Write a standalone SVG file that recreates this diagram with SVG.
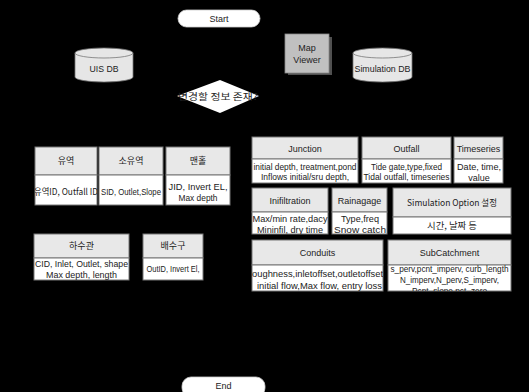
<svg xmlns="http://www.w3.org/2000/svg" width="529" height="392" viewBox="0 0 529 392">
<style>
text{font-family:"Liberation Sans","Noto Sans CJK KR",sans-serif;font-size:9px;fill:#222;text-anchor:middle}
.term{fill:#fff;stroke:#ccc;stroke-width:0.8}
.cyl{fill:#e6e6e6;stroke:#777;stroke-width:0.8}
.hd{fill:#e8e8e8;stroke:#777;stroke-width:1}
.bd{fill:#fff;stroke:#777;stroke-width:1}
.ko{font-family:"Noto Sans CJK KR","Liberation Sans",sans-serif}
</style>
<defs>
<clipPath id="cJ"><rect x="252" y="159" width="106" height="24"/></clipPath>
<clipPath id="cO"><rect x="362" y="159" width="89" height="24"/></clipPath>
<clipPath id="cT"><rect x="454" y="159" width="49" height="24"/></clipPath>
<clipPath id="cI"><rect x="252" y="212" width="76" height="22"/></clipPath>
<clipPath id="cR"><rect x="332" y="212" width="55" height="22"/></clipPath>
<clipPath id="cC"><rect x="252" y="265" width="131" height="26"/></clipPath>
<clipPath id="cS"><rect x="388" y="265" width="123" height="26"/></clipPath>
<clipPath id="cY"><rect x="35" y="175" width="62" height="30"/></clipPath>
</defs>
<rect width="529" height="392" fill="#000"/>
<g id="connectors"></g>

<g id="start">
<rect class="term" x="178" y="10" width="82" height="17" rx="8.5"/>
<text x="219" y="22">Start</text>
</g>
<g id="end">
<rect class="term" x="182" y="377" width="83" height="20" rx="9"/>
<text x="223.5" y="389">End</text>
</g>

<g id="uisdb">
<path class="cyl" d="M75,53 L75,77 A29,5 0 0 0 133,77 L133,53"/>
<ellipse class="cyl" cx="104" cy="53" rx="29" ry="5"/>
<text x="104" y="72" textLength="29" lengthAdjust="spacingAndGlyphs">UIS DB</text>
</g>
<g id="simdb">
<path class="cyl" d="M353,53 L353,77 A29.5,5 0 0 0 412,77 L412,53"/>
<ellipse class="cyl" cx="382.5" cy="53" rx="29.5" ry="5"/>
<text x="382.5" y="72" textLength="56" lengthAdjust="spacingAndGlyphs">Simulation DB</text>
</g>
<g id="mapviewer">
<rect x="288" y="37" width="44" height="38" fill="#505050"/>
<rect x="285" y="34" width="44" height="39" fill="#c0c0c0" stroke="#888" stroke-width="0.8"/>
<text x="307" y="51">Map</text>
<text x="307" y="63">Viewer</text>
</g>
<g id="decision">
<polygon points="177,96 220,80 259,96 220,113" fill="#fff"/>
<text class="ko" x="218" y="100" textLength="80" lengthAdjust="spacingAndGlyphs">변경할 정보 존재?</text>
</g>

<g id="yuyeok">
<rect class="hd" x="35" y="147" width="62" height="28"/>
<rect class="bd" x="35" y="175" width="62" height="30"/>
<text class="ko" x="66" y="164">유역</text>
<text class="ko" x="66" y="195" clip-path="url(#cY)" textLength="64" lengthAdjust="spacingAndGlyphs">유역ID, Outfall ID</text>
</g>
<g id="soyuyeok">
<rect class="hd" x="99" y="147" width="64" height="28"/>
<rect class="bd" x="99" y="175" width="64" height="30"/>
<text class="ko" x="131" y="164">소유역</text>
<text x="131" y="195" textLength="60" lengthAdjust="spacingAndGlyphs">SID, Outlet,Slope</text>
</g>
<g id="manhole">
<rect class="hd" x="166" y="147" width="64" height="28"/>
<rect class="bd" x="166" y="175" width="64" height="30"/>
<text class="ko" x="198" y="164">맨홀</text>
<text x="198" y="190" textLength="59" lengthAdjust="spacingAndGlyphs">JID, Invert EL,</text>
<text x="198" y="201" textLength="39" lengthAdjust="spacingAndGlyphs">Max depth</text>
</g>
<g id="sewer">
<rect class="hd" x="34" y="234" width="95" height="24"/>
<rect class="bd" x="34" y="258" width="95" height="22"/>
<text class="ko" x="81.5" y="249">하수관</text>
<text x="81.5" y="267" textLength="93" lengthAdjust="spacingAndGlyphs">CID, Inlet, Outlet, shape</text>
<text x="81.5" y="278" textLength="71" lengthAdjust="spacingAndGlyphs">Max depth, length</text>
</g>
<g id="outlet">
<rect class="hd" x="143" y="234" width="60" height="24"/>
<rect class="bd" x="143" y="258" width="60" height="22"/>
<text class="ko" x="173" y="249">배수구</text>
<text x="173" y="272" textLength="53" lengthAdjust="spacingAndGlyphs">OutID, Invert El,</text>
</g>

<g id="junction">
<rect class="hd" x="252" y="137" width="106" height="22"/>
<rect class="bd" x="252" y="159" width="106" height="24"/>
<text x="305" y="151.5">Junction</text>
<g clip-path="url(#cJ)">
<text x="305" y="170" textLength="103" lengthAdjust="spacingAndGlyphs">initial depth, treatment,pond</text>
<text x="305" y="180" textLength="88" lengthAdjust="spacingAndGlyphs">Inflows initial/sru depth,</text>
</g>
</g>
<g id="outfall">
<rect class="hd" x="362" y="137" width="89" height="22"/>
<rect class="bd" x="362" y="159" width="89" height="24"/>
<text x="406.5" y="151.5">Outfall</text>
<g clip-path="url(#cO)">
<text x="406.5" y="170" textLength="71" lengthAdjust="spacingAndGlyphs">Tide gate,type,fixed</text>
<text x="406.5" y="180" textLength="86" lengthAdjust="spacingAndGlyphs">Tidal outfall, timeseries</text>
</g>
</g>
<g id="timeseries">
<rect class="hd" x="454" y="137" width="49" height="22"/>
<rect class="bd" x="454" y="159" width="49" height="24"/>
<text x="478.5" y="151.5">Timeseries</text>
<g clip-path="url(#cT)">
<text x="479" y="170" textLength="44" lengthAdjust="spacingAndGlyphs">Date, time,</text>
<text x="479" y="181">value</text>
</g>
</g>
<g id="infiltration">
<rect class="hd" x="252" y="188" width="76" height="24"/>
<rect class="bd" x="252" y="212" width="76" height="22"/>
<text x="290" y="203.5">Inifiltration</text>
<g clip-path="url(#cI)">
<text x="290" y="221.5" textLength="75" lengthAdjust="spacingAndGlyphs">Max/min rate,dacy</text>
<text x="290" y="232.5" textLength="66" lengthAdjust="spacingAndGlyphs">Mininfil, dry time</text>
</g>
</g>
<g id="raingage">
<rect class="hd" x="332" y="188" width="55" height="24"/>
<rect class="bd" x="332" y="212" width="55" height="22"/>
<text x="359.5" y="203.5">Rainagage</text>
<g clip-path="url(#cR)">
<text x="360" y="221.5" textLength="38" lengthAdjust="spacingAndGlyphs">Type,freq</text>
<text x="360" y="232.5" textLength="52" lengthAdjust="spacingAndGlyphs">Snow catch</text>
</g>
</g>
<g id="simoption">
<rect class="hd" x="393" y="188" width="118" height="29"/>
<rect class="bd" x="393" y="217" width="118" height="17"/>
<text class="ko" x="452" y="206" textLength="90" lengthAdjust="spacingAndGlyphs">Simulation Option 설정</text>
<text class="ko" x="452" y="229" textLength="50" lengthAdjust="spacingAndGlyphs">시간, 날짜 등</text>
</g>
<g id="conduits">
<rect class="hd" x="252" y="240" width="131" height="25"/>
<rect class="bd" x="252" y="265" width="131" height="26"/>
<text x="317.5" y="256">Conduits</text>
<g clip-path="url(#cC)">
<text x="316" y="276.5" textLength="134" lengthAdjust="spacingAndGlyphs">roughness,inletoffset,outletoffset</text>
<text x="319.5" y="288.5" textLength="125" lengthAdjust="spacingAndGlyphs">initial flow,Max flow, entry loss</text>
</g>
</g>
<g id="subcatchment">
<rect class="hd" x="388" y="240" width="123" height="25"/>
<rect class="bd" x="388" y="265" width="123" height="26"/>
<text x="449.5" y="256">SubCatchment</text>
<g clip-path="url(#cS)">
<text x="449.5" y="271.5" textLength="118" lengthAdjust="spacingAndGlyphs">s_perv,pcnt_imperv, curb_length</text>
<text x="449.5" y="282.5" textLength="99" lengthAdjust="spacingAndGlyphs">N_imperv,N_perv,S_imperv,</text>
<text x="449.5" y="293.5" textLength="75" lengthAdjust="spacingAndGlyphs">Pcnt_slope,pct_zero</text>
</g>
</g>
</svg>
